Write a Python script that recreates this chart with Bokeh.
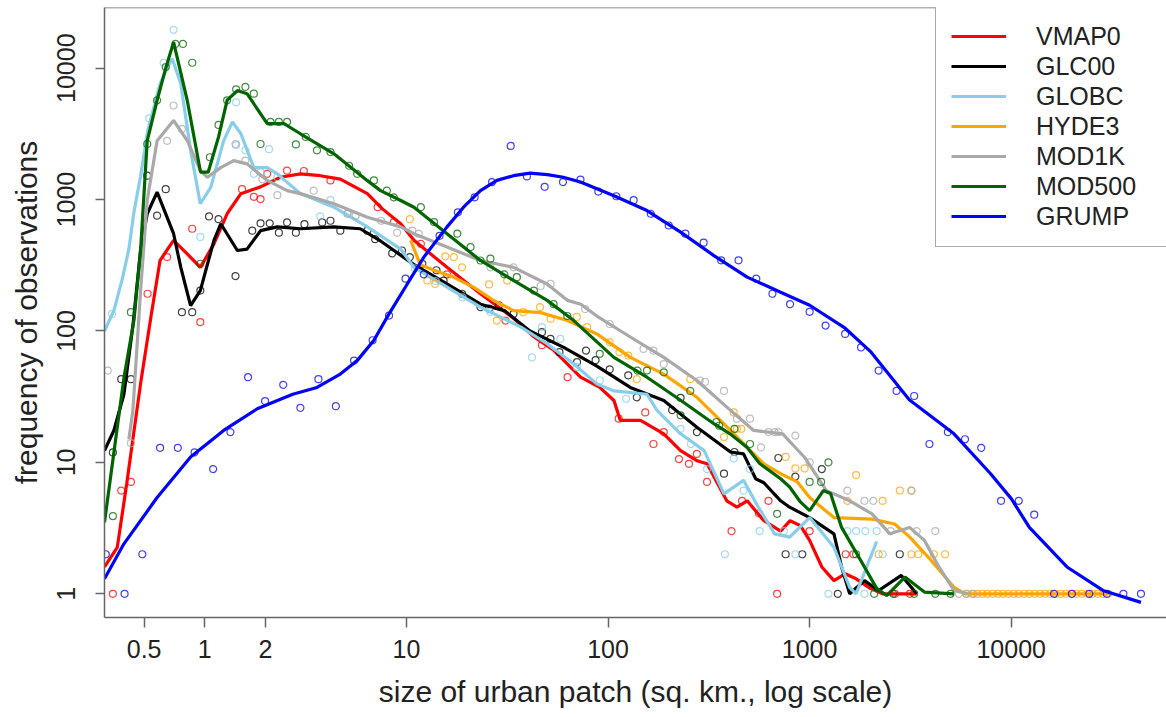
from bokeh.plotting import figure
from bokeh.models import FixedTicker, Span, Legend, LegendItem, Range1d
from bokeh.embed import file_html
from bokeh.resources import INLINE

# ---------------- data ----------------
series_names = ["VMAP0", "GLC00", "GLOBC", "HYDE3", "MOD1K", "MOD500", "GRUMP"]
series_colors = ["#FF0000", "#000000", "#87CEEB", "#FFA500", "#A9A9A9", "#006400", "#0000FF"]

x_ticks = [0.5, 1, 2, 10, 100, 1000, 10000]
x_tick_labels = ["0.5", "1", "2", "10", "100", "1000", "10000"]
y_ticks = [1, 10, 100, 1000, 10000]
y_tick_labels = ["1", "10", "100", "1000", "10000"]

# smoothed curves
vmap0_line_x = [0.318, 0.368, 0.41, 0.48, 0.54, 0.60, 0.70, 0.82, 0.95, 1.11, 1.29, 1.51, 1.89, 2.37,
                2.98, 3.74, 4.7, 6.4, 7.6, 9.37, 10.9, 15.9, 23.3, 34, 43, 54, 73, 91, 107, 115, 145,
                189, 229, 276, 310, 388, 436, 490, 593, 718, 800, 900, 1000, 1150, 1320, 1500, 1700,
                2000, 2300, 3400]
vmap0_line_y = [1.6, 2.26, 6.9, 39.6, 127, 345, 490, 385, 305, 460, 780, 1110, 1250, 1480,
                1570, 1520, 1430, 1110, 850, 655, 490, 305, 192, 125, 90, 71, 44.5, 37.2, 29.6, 20.9, 20.9,
                16.5, 12.3, 10.3, 9.75, 5.1, 4.56, 5.1, 3.6, 3.0, 3.6, 3.3, 2.55, 1.6, 1.26, 1.42, 1.3,
                1.1, 1.0, 1.0]

glc00_line_x = [0.318, 0.354, 0.397, 0.44, 0.48, 0.518, 0.58, 0.70, 0.76, 0.85, 0.95, 1.11, 1.2, 1.45,
                1.62, 1.89, 2.29, 2.98, 4.37, 5.9, 7.5, 10.9, 15.9, 23.3, 30.6, 41, 60.3, 88, 129, 189,
                276, 405, 470, 540, 593, 718, 796, 1000, 1320, 1440, 1580, 1870, 2200, 2850, 3400]
glc00_line_y = [12.3, 17.5, 33, 110, 410, 780, 1140, 550, 305, 156, 203, 490, 655, 410,
                420, 580, 620, 600, 620, 600, 480, 320, 228, 160, 143, 100, 75, 54, 37.2, 29.6,
                18.5, 12, 11.6, 7.5, 7.0, 5.1, 4.56, 3.8, 2.86, 1.6, 1.0, 1.26, 1.06, 1.38, 1.0]

globc_line_x = [0.318, 0.354, 0.39, 0.42, 0.445, 0.48, 0.52, 0.60, 0.65, 0.69, 0.76, 0.85, 0.95, 1.07,
                1.24, 1.37, 1.51, 1.75, 2.04, 2.29, 2.98, 4.37, 6.4, 9.37, 10.9, 15.9, 23.3, 37, 49.9,
                67.6, 88, 107, 156, 175, 229, 300, 376, 470, 546, 670, 796, 1000, 1320, 1580, 1700, 2150]
globc_line_y = [100, 143, 250, 420, 800, 1500, 3300, 7600, 10000, 11800, 7600, 2370, 930, 1240,
                2800, 3900, 3170, 1750, 1750, 1570, 1110, 875, 620, 420, 305, 216, 152, 107, 80,
                56, 39.6, 35, 33, 24.9, 16.5, 12.3, 5.76, 7.3, 4.8, 2.86, 2.7, 3.8, 2.26, 1.12, 1.0, 2.5]

hyde3_line_x = [10.5, 11.7, 13.7, 17.2, 21.6, 27.2, 34, 46.3, 63, 88, 129, 189, 276, 405, 490, 593,
                718, 870, 1000, 1320, 2040, 2640, 3140, 4000, 5200, 5900, 30500]
hyde3_line_y = [490, 320, 290, 256, 215, 170, 143, 138, 120, 95, 63, 47, 31.3, 17.5, 13, 9.75,
                8.2, 7.1, 5.4, 3.8, 3.7, 3.4, 2.7, 1.8, 1.12, 1.0, 1.0]

mod1k_line_x = [0.42, 0.44, 0.48, 0.518, 0.58, 0.70, 0.82, 0.95, 1.03, 1.2, 1.39, 1.62, 2.04, 2.56,
                2.98, 4.37, 6.4, 9.37, 10.9, 15.9, 23.3, 34, 49.9, 63, 73.3, 88, 129, 189, 276, 405,
                528, 735, 945, 1210, 1580, 2040, 2500, 3130, 3710, 4380, 5200, 6130]
mod1k_line_y = [15, 25, 200, 990, 2800, 4000, 2800, 1660, 1480, 1750, 1980, 1870, 1400, 1170,
                1110, 930, 735, 620, 550, 435, 344, 305, 228, 171, 160, 130, 90, 63, 42, 24.9,
                17.5, 16.5, 10.9, 6.1, 5.1, 4.06, 2.86, 3.2, 2.55, 1.6, 1.06, 1.0]

mod500_line_x = [0.318, 0.397, 0.445, 0.48, 0.518, 0.58, 0.64, 0.70, 0.818, 0.952, 1.04, 1.17, 1.29,
                 1.45, 1.62, 2.04, 2.47, 2.98, 4.37, 6.38, 7.44, 9.37, 10.9, 15.9, 23.3, 34.1, 49.9,
                 67.6, 73.3, 106.9, 156, 229, 335, 403, 490, 565, 718, 796, 900, 1000, 1170, 1270,
                 1440, 1790, 2150, 2410, 2970, 3710, 5200]
mod500_line_y = [3.5, 44, 120, 410, 2800, 5700, 10000, 15800, 5700, 1620, 1620, 3000, 5700,
                 6760, 6400, 3780, 3780, 3170, 2230, 1400, 1170, 985, 875, 550, 344, 242, 171,
                 120, 107, 63, 44.5, 29.7, 19.7, 16.5, 13, 9.8, 7.5, 6.5, 5.0, 4.3, 6.1, 5.8,
                 3.2, 1.8, 1.1, 0.97, 1.34, 1.03, 1.0]

grump_line_x = [0.318, 0.397, 0.58, 0.85, 1.24, 1.82, 2.73, 3.6, 4.7, 5.7, 6.9, 8.2, 10.1, 12.2,
                15.9, 19.2, 23.3, 28.1, 34, 41, 50, 60, 73, 107, 156, 229, 335, 490, 718, 1000,
                1500, 2000, 3120, 5200, 7900, 10000, 12300, 18900, 28500, 44000]
grump_line_y = [1.3, 2.4, 5.4, 11, 17.5, 25.6, 33, 37.2, 47, 59.5, 85, 135, 228, 365,
                620, 875, 1170, 1400, 1520, 1590, 1550, 1480, 1360, 1070, 825, 565, 375, 257, 197, 157,
                105, 70, 30, 16.5, 8.2, 5.3, 3.2, 1.6, 1.06, 0.86]

# observed frequencies (points)
vmap0_pts_x = [0.35, 0.385, 0.43, 0.52, 0.65, 0.866, 0.95, 1.53, 1.75, 1.89, 2.04, 2.56, 3.1, 4.2, 7.2,
               8.66, 11.8, 15.9, 31, 47, 63, 113, 153, 168, 189, 225, 252, 276, 310, 410, 462, 560,
               625, 690, 1000, 1510, 1650, 2650, 3140]
vmap0_pts_y = [1, 6.1, 7.1, 192, 365, 600, 117, 1200, 1050, 1010, 1570, 1660, 1650, 1400, 875,
               675, 460, 270, 120, 78, 44.5, 21.5, 24, 13.8, 17, 10.6, 9.75, 11.6, 7.1, 3.0, 5.1, 4.1,
               5.1, 1, 3, 2, 2, 1, 1]

glc00_pts_x = [0.35, 0.385, 0.43, 0.518, 0.58, 0.64, 0.77, 0.866, 0.95, 1.05, 1.17, 1.42, 1.72, 1.89,
               2.1, 2.33, 2.56, 2.83, 3.12, 3.82, 4.2, 4.7, 6.4, 7.0, 8.5, 9.5, 10.4, 12, 14.1, 15.3,
               18.9, 23.3, 25.7, 28.8, 34, 47, 51.8, 57.4, 70.2, 77.8, 86.8, 102, 126, 139, 208, 229,
               276, 376, 424, 700, 760, 850, 920, 1150, 1380, 2800]
glc00_pts_y = [11.9, 43, 43, 1520, 755, 1200, 139, 139, 203, 745, 710, 262, 580, 660,
               660, 560, 670, 560, 650, 670, 690, 580, 580, 500, 390, 410, 365, 325, 290, 242,
               192, 152, 148, 157, 135, 98, 87, 69, 58, 71, 60, 51, 46, 31.3, 25, 31,
               17, 8.2, 12, 10.8, 2, 7.8, 2, 8.9, 1, 2]

globc_pts_x = [0.347, 0.53, 0.625, 0.70, 0.95, 1.43, 1.43, 1.59, 1.75, 1.89, 2.08, 2.29, 3.74, 4.2,
               5.1, 11, 14, 19, 26, 42, 47, 58, 70, 91, 123, 229, 258, 310, 380, 420, 470, 506,
               565, 745, 850, 1240, 1540, 1700, 1870, 1890, 2150, 2300]
globc_pts_y = [135, 4150, 11000, 19600, 520, 5500, 2600, 2370, 1570, 1620, 2420, 1480, 745, 990,
               780, 300, 240, 180, 140, 63, 107, 87, 53, 42, 30.5, 18, 13.8, 8.9, 2, 10.7, 6.1, 8.9,
               3, 3, 2, 1, 3, 3, 1, 3, 3, 2]

hyde3_pts_x = [10.4, 12.7, 13.9, 15.6, 17.2, 18.9, 25.7, 28.1, 31.6, 38, 46, 51.9, 70, 78.7, 102, 114,
               126, 139, 256, 376, 420, 436, 458, 760, 850, 945, 1540, 1700, 2200, 2300, 2800, 3200,
               3200, 3460, 4130, 4700, 6000, 6400, 6800, 7200, 7600, 8100, 8600, 9100, 9700, 10300,
               10900, 11600, 12300, 13100, 13900, 14700, 15600, 16600, 17600, 18700, 19900, 21100,
               22400, 23800, 25300, 26900, 28500, 30300]
hyde3_pts_y = [710, 242, 228, 370, 365, 305, 226, 120, 242, 139, 152, 124, 128, 107, 82, 69,
               65, 43, 43, 15.6, 24, 18, 18, 11, 9, 9, 5.1, 8, 2, 5.1, 6.1, 6.1,
               2, 2, 2, 2, 1, 1, 1, 1, 1, 1, 1, 1, 1, 1,
               1, 1, 1, 1, 1, 1, 1, 1, 1, 1, 1, 1,
               1, 1, 1, 1, 1, 1]

mod1k_pts_x = [0.33, 0.43, 0.65, 0.70, 0.77, 1.42, 1.59, 1.93, 2.29, 3.47, 5.1, 5.6, 7.5, 9.0, 10.7,
               11.5, 26.1, 34, 46.3, 51.9, 77, 102, 150, 168, 189, 285, 303, 376, 436, 506, 574, 625,
               670, 700, 850, 1000, 1540, 1870, 2070, 2520, 3200, 3400, 4200, 5500, 6000, 6500]
mod1k_pts_y = [50, 14, 2800, 5200, 3440, 2650, 1980, 1430, 1080, 1170, 780, 755, 690, 560, 580,
               550, 305, 305, 220, 228, 147, 113, 73, 71, 56, 42, 41, 35, 21.5, 21.5, 13, 17,
               17, 17, 16, 10, 6.1, 5.1, 5.1, 3, 6.1, 3, 3, 1, 1, 1]

mod500_pts_x = [0.35, 0.43, 0.518, 0.58, 0.64, 0.716, 0.78, 0.866, 0.95, 1.06, 1.17, 1.29, 1.43, 1.59,
                1.75, 1.89, 2.12, 2.33, 2.56, 2.83, 3.17, 3.6, 4.2, 5.2, 5.7, 6.9, 8.0, 8.66, 11.8,
                13.7, 17.9, 20.8, 23.3, 26.1, 30.6, 35.3, 42.9, 53.7, 62.8, 91, 140, 156, 189, 229,
                256, 345, 356, 424, 506, 690, 1000, 1140, 1240, 1700, 2090, 2600, 3300, 4200, 5000]
mod500_pts_y = [3.9, 139, 2650, 5700, 10200, 15300, 15300, 11000, 325, 2100, 3700, 5700, 6900, 7200,
                6400, 2650, 3900, 3900, 3900, 2630, 3000, 2370, 2300, 1810, 1570, 1400, 1170, 1040, 875,
                675, 550, 435, 344, 355, 270, 257, 203, 160, 130, 67, 50, 50, 48.5, 22.8,
                35, 20.3, 19, 18, 13.8, 4.06, 7.1, 7.1, 10, 2.0, 1, 1, 1, 1, 1]

grump_pts_x = [0.323, 0.4, 0.49, 0.60, 0.735, 0.89, 1.1, 1.34, 1.64, 1.99, 2.45, 2.98, 3.66, 4.47, 5.5,
               6.8, 8.2, 9.9, 12.2, 14.6, 18, 21.8, 26.6, 32.9, 39.6, 48.5, 59.8, 73, 89.5, 110, 134,
               163, 200, 242, 298, 364, 444, 544, 654, 800, 1000, 1200, 1500, 1800, 2200, 2700, 3300,
               3930, 4850, 5900, 7100, 8900, 10900, 13000, 16300, 20000, 24400, 29800, 36000, 44000]
grump_pts_y = [2, 1, 2, 12.9, 12.9, 11.9, 8.9, 17, 44.5, 29.3, 38.9, 26, 43, 26.8, 59.5,
               85, 131, 250, 270, 530, 800, 1040, 1360, 2560, 1500, 1250, 1360, 1420, 1150, 1060, 990,
               780, 635, 550, 470, 345, 345, 250, 192, 160, 140, 110, 95, 75, 50, 35, 32,
               13.8, 17, 15, 12.9, 5.1, 5.1, 4, 1, 1, 1, 1, 1, 1]

lines_x = [vmap0_line_x, glc00_line_x, globc_line_x, hyde3_line_x, mod1k_line_x, mod500_line_x, grump_line_x]
lines_y = [vmap0_line_y, glc00_line_y, globc_line_y, hyde3_line_y, mod1k_line_y, mod500_line_y, grump_line_y]
pts_x = [vmap0_pts_x, glc00_pts_x, globc_pts_x, hyde3_pts_x, mod1k_pts_x, mod500_pts_x, grump_pts_x]
pts_y = [vmap0_pts_y, glc00_pts_y, globc_pts_y, hyde3_pts_y, mod1k_pts_y, mod500_pts_y, grump_pts_y]

# ---------------- figure ----------------
FONT = "Liberation Sans"
X_LO, X_HI = 0.318, 58900
Y_LO, Y_HI = 0.66, 28970

p = figure(width=1166, height=717, x_axis_type="log", y_axis_type="log",
           x_range=Range1d(X_LO, X_HI), y_range=Range1d(Y_LO, Y_HI),
           output_backend="svg", toolbar_location=None,
           min_border_left=104, min_border_right=0, min_border_top=7, min_border_bottom=100)
p.background_fill_color = "white"
p.border_fill_color = "white"
p.outline_line_color = None
p.xgrid.visible = False
p.ygrid.visible = False

AX = "#666666"
for ax in (p.xaxis[0], p.yaxis[0]):
    ax.axis_line_color = AX
    ax.axis_line_width = 1.5
    ax.major_tick_line_color = AX
    ax.major_tick_line_width = 1.5
    ax.major_tick_in = 0
    ax.minor_tick_line_color = None
    ax.major_label_text_font = FONT
    ax.major_label_text_font_size = "25px"
    ax.major_label_text_color = "#222222"
    ax.axis_label_text_font = FONT
    ax.axis_label_text_font_size = "30px"
    ax.axis_label_text_font_style = "normal"
    ax.axis_label_text_color = "#222222"

p.xaxis.ticker = FixedTicker(ticks=x_ticks)
p.xaxis.major_label_overrides = dict(zip(x_ticks, x_tick_labels))
p.xaxis.major_tick_out = 10
p.xaxis.major_label_standoff = 12
p.xaxis.axis_label = "size of urban patch (sq. km., log scale)"
p.xaxis.axis_label_standoff = 14

p.yaxis.ticker = FixedTicker(ticks=y_ticks)
p.yaxis.major_label_overrides = dict(zip(y_ticks, y_tick_labels))
p.yaxis.major_tick_out = 9
p.yaxis.major_label_standoff = 20
p.yaxis.major_label_orientation = "vertical"
p.yaxis.axis_label = "frequency of observations"
p.yaxis.axis_label_standoff = 12

p.add_layout(Span(location=Y_HI, dimension="width", line_color=AX, line_width=1.5))

items = []
for name, col, lx, ly, px, py in zip(series_names, series_colors, lines_x, lines_y, pts_x, pts_y):
    p.scatter(px, py, marker="circle", size=7, fill_color=None, line_color=col,
              line_width=1.2, line_alpha=0.75)
    r = p.line(lx, ly, line_color=col, line_width=3.2)
    items.append(LegendItem(label=name, renderers=[r]))

legend = Legend(items=items, location=(831, 370))
legend.label_text_font = FONT
legend.label_text_font_size = "25px"
legend.label_text_color = "#222222"
legend.glyph_width = 55
legend.glyph_height = 30
legend.label_height = 30
legend.label_width = 140
legend.label_standoff = 30
legend.spacing = 0
legend.padding = 15
legend.margin = 0
legend.border_line_color = "#555555"
legend.border_line_width = 1.5
legend.background_fill_color = "white"
legend.background_fill_alpha = 1.0
p.add_layout(legend)

open("out.html", "w").write(file_html(p, INLINE))
